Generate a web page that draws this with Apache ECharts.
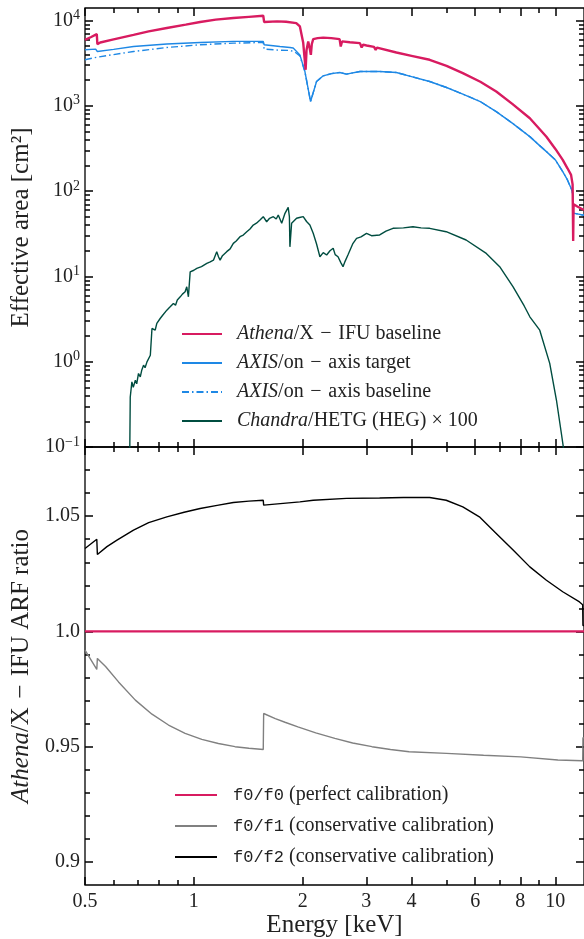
<!DOCTYPE html>
<html>
<head>
<meta charset="utf-8">
<title>Effective area</title>
<script src="https://cdn.jsdelivr.net/npm/echarts@6/dist/echarts.min.js"></script>
<style>
  html, body { margin: 0; padding: 0; background: #fff; }
  #chart { width: 584px; height: 939px; }
</style>
</head>
<body>
<div id="chart"></div>
<script>
// values (energy in keV, area in cm^2)
const athenaE = [0.5, 0.52, 0.539, 0.541, 0.551, 0.6, 0.681, 0.75, 0.842, 0.95, 1.041, 1.15, 1.286, 1.42, 1.556, 1.565, 1.7, 1.8, 1.92, 1.965, 2.007, 2.038, 2.05, 2.072, 2.09, 2.107, 2.12, 2.139, 2.2, 2.28, 2.4, 2.53, 2.549, 2.57, 2.7, 2.88, 2.912, 2.94, 3.004, 3.15, 3.184, 3.21, 3.633, 4.0, 4.49, 5.0, 5.546, 6.2, 6.862, 7.6, 8.499, 9.0, 9.446, 10.0, 10.48, 10.8, 11.05, 11.16, 11.2, 11.23, 11.5, 12];
const athenaA = [5930, 6400, 6920, 5280, 5520, 6010, 6790, 7460, 8150, 8930, 9580, 10220, 10670, 11020, 11350, 9580, 9750, 9660, 9320, 8500, 5470, 2640, 4500, 5680, 4800, 3950, 5300, 6050, 6200, 6300, 6210, 6050, 4950, 5680, 5550, 5420, 4830, 5200, 5090, 4900, 4530, 4800, 4210, 3850, 3460, 2940, 2415, 1910, 1470, 1052, 714, 546, 434, 312, 232, 185, 155, 120, 26, 70, 66, 60];

const axisTargetE = [0.5, 0.535, 0.541, 0.6, 0.681, 0.842, 1.041, 1.286, 1.556, 1.565, 1.73, 1.844, 1.883, 1.965, 2.029, 2.103, 2.185, 2.28, 2.4, 2.533, 2.643, 2.88, 3.266, 3.633, 4.0, 4.49, 5.0, 5.546, 6.2, 6.862, 7.6, 8.499, 9.0, 9.446, 10.0, 10.48, 10.8, 11.05, 11.16, 11.22, 11.5, 12];
const axisTargetA = [4530, 4620, 4330, 4580, 4950, 5290, 5520, 5680, 5680, 5190, 4950, 4820, 4760, 3950, 2520, 1120, 1925, 2245, 2380, 2455, 2350, 2520, 2520, 2455, 2200, 1925, 1637, 1370, 1120, 855, 626, 435, 348, 290, 232, 169, 135, 108, 95, 55, 54, 52];

const axisBaseE = [0.5, 0.541, 0.681, 0.842, 1.041, 1.286, 1.556, 1.565, 1.73, 1.844, 1.9, 1.965, 2.029, 2.103, 2.185, 2.28, 2.4, 2.533, 2.643, 2.88, 3.266, 3.633, 4.0, 4.49, 5.0, 5.546, 6.2, 6.862, 7.6, 8.499, 9.0, 9.446, 10.0, 10.48, 10.8, 11.05, 11.16, 11.22, 11.5, 12];
const axisBaseA = [3460, 3720, 4330, 4820, 5190, 5420, 5520, 4610, 4480, 4450, 4300, 3850, 2500, 1120, 1925, 2245, 2380, 2455, 2350, 2520, 2520, 2455, 2200, 1925, 1637, 1370, 1120, 855, 626, 435, 348, 290, 232, 169, 135, 108, 95, 55, 54, 52];

// Chandra HETG (HEG) area, already multiplied by 100
const chandraE = [0.662, 0.667, 0.674, 0.68, 0.689, 0.695, 0.703, 0.711, 0.718, 0.726, 0.733, 0.742, 0.75, 0.758, 0.766, 0.774, 0.782, 0.79, 0.8, 0.807, 0.82, 0.83, 0.842, 0.86, 0.878, 0.89, 0.9, 0.917, 0.93, 0.946, 0.956, 0.966, 0.977, 1.0, 1.019, 1.05, 1.086, 1.11, 1.133, 1.157, 1.17, 1.182, 1.2, 1.233, 1.26, 1.286, 1.31, 1.342, 1.37, 1.401, 1.43, 1.46, 1.49, 1.524, 1.556, 1.59, 1.62, 1.659, 1.69, 1.712, 1.75, 1.787, 1.824, 1.838, 1.844, 1.864, 1.924, 1.96, 2.007, 2.05, 2.094, 2.139, 2.185, 2.232, 2.28, 2.33, 2.38, 2.429, 2.46, 2.505, 2.55, 2.586, 2.62, 2.668, 2.75, 2.819, 2.9, 3.004, 3.1, 3.266, 3.4, 3.555, 3.8, 4.036, 4.25, 4.49, 4.989, 5.664, 6.44, 7.014, 7.64, 8.2, 8.499, 9.053, 9.647, 10.07, 10.39, 10.6, 10.7];
const chandraA = [0.01, 0.386, 0.579, 0.5, 0.607, 0.55, 0.728, 0.664, 0.8, 0.91, 0.85, 0.995, 1.05, 1.19, 2.45, 2.56, 2.35, 2.81, 2.9, 3.21, 3.5, 3.4, 4.02, 4.4, 4.82, 4.6, 5.3, 5.76, 6.2, 6.6, 7.55, 5.76, 11.3, 11.8, 12.4, 13.0, 14.2, 14.8, 15.5, 19.5, 17, 15.5, 17.5, 19.5, 21, 24.4, 26, 29.2, 30.5, 33.4, 36, 40, 42, 45.8, 50.1, 43.7, 48, 50.1, 47, 52.4, 41.9, 54.9, 64.5, 50, 22.2, 41.9, 48, 49, 50.1, 44, 40, 32, 24, 17, 19, 17.8, 20, 21.4, 18, 17, 14.5, 13, 15, 17.8, 24, 27.9, 29, 32, 30, 30.6, 34, 36.6, 37, 38.2, 37, 36.6, 33.4, 26.7, 18.6, 13, 7.55, 4.5, 3.36, 2.34, 0.955, 0.353, 0.144, 0.08, 0.02];

// ARF ratios
const f0E = [0.5, 12];
const f0R = [1, 1];
const f1E = [0.5, 0.539, 0.541, 0.57, 0.619, 0.689, 0.766, 0.851, 0.946, 1.052, 1.169, 1.3, 1.42, 1.556, 1.56, 1.68, 1.787, 1.94, 2.174, 2.455, 2.75, 3.11, 3.5, 3.94, 5.0, 6.33, 8.02, 10.16, 11.9, 11.92, 12];
const f1R = [0.9919, 0.9835, 0.9883, 0.9848, 0.9781, 0.9702, 0.9641, 0.9594, 0.9558, 0.9532, 0.9514, 0.95, 0.9493, 0.9488, 0.9644, 0.9622, 0.9606, 0.9586, 0.956, 0.9536, 0.9516, 0.95, 0.9488, 0.9478, 0.9471, 0.9463, 0.9456, 0.9442, 0.9439, 0.954, 0.9535];
const f2E = [0.5, 0.539, 0.541, 0.575, 0.613, 0.681, 0.75, 0.842, 0.94, 1.041, 1.16, 1.286, 1.42, 1.556, 1.56, 1.965, 2.139, 2.643, 3.266, 3.8, 4.49, 4.989, 5.546, 6.163, 6.862, 7.64, 8.499, 9.446, 10.48, 11.66, 11.9, 11.92, 12];
const f2R = [1.036, 1.040, 1.0334, 1.0368, 1.0396, 1.0439, 1.0472, 1.0497, 1.0517, 1.0533, 1.0547, 1.0559, 1.0565, 1.0569, 1.0548, 1.0562, 1.0569, 1.0577, 1.0579, 1.0581, 1.0581, 1.0569, 1.054, 1.0497, 1.0425, 1.0353, 1.028, 1.0222, 1.0172, 1.0128, 1.0116, 1.0026, 1.0026];

// axis ranges and ticks
const eRange = [0.5, 12];
const areaRange = [0.1, 14000];
const ratioRange = [0.89, 1.08];
const eTicks = [0.5, 1, 2, 3, 4, 6, 8, 10];
const eTickLabels = ['0.5', '1', '2', '3', '4', '6', '8', '10'];
const eMinorTicks = [0.6, 0.7, 0.8, 0.9, 5, 7, 9];
const areaTicks = [0.1, 1, 10, 100, 1000, 10000];
const areaPowers = ['−1', '0', '1', '2', '3', '4'];
const areaMinorTicks = [];
areaTicks.slice(0, 5).forEach((d) => {
  for (let k = 2; k <= 9; k++) areaMinorTicks.push(d * k);
});
const ratioTicks = [0.9, 0.95, 1.0, 1.05];
const ratioTickLabels = ['0.9', '0.95', '1.0', '1.05'];
const ratioMinorTicks = [0.91, 0.92, 0.93, 0.94, 0.96, 0.97, 0.98, 0.99, 1.01, 1.02, 1.03, 1.04, 1.06, 1.07];

const MAJOR = 8;
const MINOR = 5;

const pairs = (xs, ys) => xs.map((x, i) => [x, ys[i]]);
const nearest = (list, v) => {
  let best = 0;
  list.forEach((t, i) => { if (Math.abs(t - v) < Math.abs(list[best] - v)) best = i; });
  return best;
};

const serif = '"Liberation Serif", "DejaVu Serif", serif';
const mono = '"Liberation Mono", "DejaVu Sans Mono", monospace';
const ink = '#222';
const red = '#d81b60';
const blue = '#1e88e5';
const green = '#004d40';
const sp = '\u2004';

// one axis per side and tick size, all ticks pointing inward
function sideAxis(base, side, ticks, len, extra) {
  return Object.assign({
    position: side,
    axisLine: { show: false, onZero: false },
    axisTick: { show: true, inside: true, length: len, customValues: ticks, lineStyle: { color: '#000', width: 1.5 } },
    axisLabel: { show: false },
    splitLine: { show: false },
    minorTick: { show: false },
  }, base, extra || {});
}

const eTop = { type: 'log', gridIndex: 0, min: eRange[0], max: eRange[1] };
const eBot = { type: 'log', gridIndex: 1, min: eRange[0], max: eRange[1] };
const areaBase = { type: 'log', gridIndex: 0, min: areaRange[0], max: areaRange[1] };
const ratioBase = { type: 'value', gridIndex: 1, min: ratioRange[0], max: ratioRange[1] };

const lineOf = (name, xi, data, color, width, z, type) => ({
  name,
  type: 'line',
  xAxisIndex: xi,
  yAxisIndex: xi,
  data,
  symbol: 'none',
  showSymbol: false,
  z,
  lineStyle: { color, width, type: type || 'solid' },
  itemStyle: { color },
});

const chart = echarts.init(document.getElementById('chart'));

chart.setOption({
  backgroundColor: '#fff',
  animation: false,
  grid: [
    { left: 85, top: 8, width: 500, height: 439, show: true, borderColor: '#000', borderWidth: 1.3 },
    { left: 85, top: 447, width: 500, height: 438, show: true, borderColor: '#000', borderWidth: 1.3 },
  ],
  xAxis: [
    sideAxis(eTop, 'bottom', eTicks, MAJOR),
    sideAxis(eTop, 'bottom', eMinorTicks, MINOR),
    sideAxis(eTop, 'top', eTicks, MAJOR),
    sideAxis(eTop, 'top', eMinorTicks, MINOR),
    sideAxis(eBot, 'bottom', eTicks, MAJOR, {
      axisLabel: {
        show: true,
        customValues: eTicks,
        margin: 7,
        fontSize: 20,
        fontFamily: serif,
        color: ink,
        formatter: (v) => eTickLabels[nearest(eTicks, v)],
      },
      name: 'Energy [keV]',
      nameLocation: 'middle',
      nameGap: 26,
      nameTextStyle: { fontSize: 25, fontFamily: serif, color: ink },
    }),
    sideAxis(eBot, 'bottom', eMinorTicks, MINOR),
    sideAxis(eBot, 'top', eTicks, MAJOR),
    sideAxis(eBot, 'top', eMinorTicks, MINOR),
  ],
  yAxis: [
    sideAxis(areaBase, 'left', areaTicks, MAJOR, {
      axisLabel: {
        show: true,
        customValues: areaTicks,
        margin: 5,
        formatter: (v) => '{b|10}{s|' + areaPowers[nearest(areaTicks.map(Math.log10), Math.log10(v))] + '}',
        rich: {
          b: { fontSize: 20, fontFamily: serif, color: ink, lineHeight: 24 },
          s: { fontSize: 14, fontFamily: serif, color: ink, lineHeight: 12, verticalAlign: 'top' },
        },
      },
      name: 'Effective area [cm²]',
      nameLocation: 'middle',
      nameGap: 46,
      nameTextStyle: { fontSize: 25, fontFamily: serif, color: ink },
    }),
    sideAxis(areaBase, 'left', areaMinorTicks, MINOR),
    sideAxis(areaBase, 'right', areaTicks, MAJOR),
    sideAxis(areaBase, 'right', areaMinorTicks, MINOR),
    sideAxis(ratioBase, 'left', ratioTicks, MAJOR, {
      axisLabel: {
        show: true,
        customValues: ratioTicks,
        margin: 5,
        fontSize: 20,
        fontFamily: serif,
        color: ink,
        formatter: (v) => ratioTickLabels[nearest(ratioTicks, v)],
      },
      name: '{i|Athena}{r|/X' + sp + '−' + sp + 'IFU ARF ratio}',
      nameLocation: 'middle',
      nameGap: 46,
      nameTextStyle: {
        fontSize: 25,
        fontFamily: serif,
        color: ink,
        rich: {
          i: { fontSize: 25, fontFamily: serif, fontStyle: 'italic', color: ink },
          r: { fontSize: 25, fontFamily: serif, color: ink },
        },
      },
    }),
    sideAxis(ratioBase, 'left', ratioMinorTicks, MINOR),
    sideAxis(ratioBase, 'right', ratioTicks, MAJOR),
    sideAxis(ratioBase, 'right', ratioMinorTicks, MINOR),
  ],
  legend: [
    {
      data: ['Athena/X − IFU baseline', 'AXIS/on − axis target', 'AXIS/on − axis baseline', 'Chandra/HETG (HEG) × 100'],
      orient: 'vertical',
      left: 181,
      top: 324,
      padding: 0,
      itemWidth: 40,
      itemHeight: 14,
      itemGap: 9,
      selectedMode: false,
      itemStyle: { opacity: 0 },
      formatter: (name) => {
        const k = name.indexOf('/');
        return '{i|' + name.slice(0, k) + '}{r|' + name.slice(k).replace(' − ', sp + '−' + sp) + '}';
      },
      textStyle: {
        fontSize: 20,
        fontFamily: serif,
        color: ink,
        rich: {
          i: { fontSize: 20, fontFamily: serif, fontStyle: 'italic', color: ink, lineHeight: 20, padding: [0, 0, 0, 10] },
          r: { fontSize: 20, fontFamily: serif, color: ink, lineHeight: 20 },
        },
      },
    },
    {
      data: ['f0/f0 (perfect calibration)', 'f0/f1 (conservative calibration)', 'f0/f2 (conservative calibration)'],
      orient: 'vertical',
      left: 174,
      top: 785,
      padding: 0,
      itemWidth: 42,
      itemHeight: 14,
      itemGap: 11,
      selectedMode: false,
      itemStyle: { opacity: 0 },
      formatter: (name) => {
        const k = name.indexOf(' ');
        return '{m|' + name.slice(0, k) + '}{r|' + name.slice(k) + '}';
      },
      textStyle: {
        fontSize: 20,
        fontFamily: serif,
        color: ink,
        rich: {
          m: { fontSize: 17, fontFamily: mono, color: ink, lineHeight: 20, padding: [0, 0, 0, 11] },
          r: { fontSize: 20, fontFamily: serif, color: ink, lineHeight: 20 },
        },
      },
    },
  ],
  series: [
    lineOf('Chandra/HETG (HEG) × 100', 0, pairs(chandraE, chandraA), green, 1.4, 2),
    lineOf('AXIS/on − axis baseline', 0, pairs(axisBaseE, axisBaseA), blue, 1.4, 3, [7, 3, 1.5, 3]),
    lineOf('AXIS/on − axis target', 0, pairs(axisTargetE, axisTargetA), blue, 1.4, 4),
    lineOf('Athena/X − IFU baseline', 0, pairs(athenaE, athenaA), red, 2.4, 5),
    lineOf('f0/f1 (conservative calibration)', 4, pairs(f1E, f1R), '#808080', 1.4, 3),
    lineOf('f0/f2 (conservative calibration)', 4, pairs(f2E, f2R), '#000', 1.4, 4),
    lineOf('f0/f0 (perfect calibration)', 4, pairs(f0E, f0R), red, 2.4, 5),
  ],
});
</script>
</body>
</html>
